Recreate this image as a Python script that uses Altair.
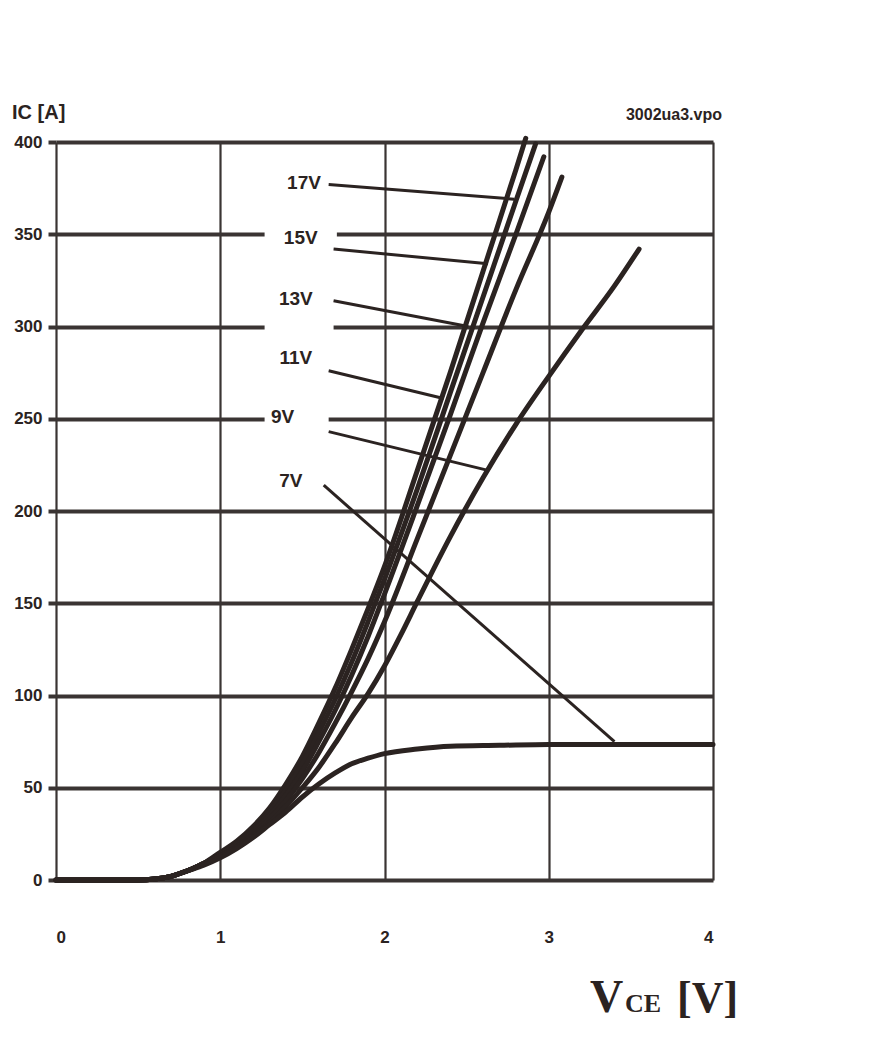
import altair as alt
import pandas as pd

# ---- data ----
gate_labels = ["17V", "15V", "13V", "11V", "9V", "7V"]

vce_17 = [0, 0.5, 0.6, 0.7, 0.8, 0.9, 1.0, 1.1, 1.2, 1.3, 1.4, 1.5, 1.6, 1.7, 1.8, 1.9, 2.0, 2.2, 2.4, 2.6, 2.8, 2.86]
ic_17 = [0, 0, 0.5, 2, 5, 9, 15, 21, 29, 39, 52, 67, 85, 104, 125, 147, 170, 222, 275, 330, 385, 402]

vce_15 = [0, 0.5, 0.6, 0.7, 0.8, 0.9, 1.0, 1.1, 1.2, 1.3, 1.4, 1.5, 1.6, 1.7, 1.8, 1.9, 2.0, 2.2, 2.4, 2.6, 2.8, 2.92]
ic_15 = [0, 0, 0.5, 2, 5, 9, 14, 20, 27, 37, 49, 63, 80, 98, 118, 140, 163, 212, 264, 316, 368, 399]

vce_13 = [0, 0.5, 0.6, 0.7, 0.8, 0.9, 1.0, 1.1, 1.2, 1.3, 1.4, 1.5, 1.6, 1.7, 1.8, 1.9, 2.0, 2.2, 2.4, 2.6, 2.8, 2.97]
ic_13 = [0, 0, 0.5, 2, 5, 9, 14, 19, 26, 35, 46, 59, 75, 92, 111, 132, 155, 203, 252, 302, 350, 392]

vce_11 = [0, 0.5, 0.6, 0.7, 0.8, 0.9, 1.0, 1.1, 1.2, 1.3, 1.4, 1.5, 1.6, 1.7, 1.8, 1.9, 2.0, 2.2, 2.4, 2.6, 2.8, 3.0, 3.08]
ic_11 = [0, 0, 0.5, 2, 5, 9, 13, 18, 25, 33, 43, 55, 69, 85, 102, 120, 140, 185, 230, 275, 320, 362, 381]

vce_9 = [0, 0.5, 0.6, 0.7, 0.8, 0.9, 1.0, 1.1, 1.2, 1.3, 1.4, 1.5, 1.6, 1.7, 1.8, 1.9, 2.0, 2.1, 2.2, 2.4, 2.6, 2.8, 3.0, 3.2, 3.4, 3.55]
ic_9 = [0, 0, 0.5, 2, 5, 9, 13, 18, 24, 31, 40, 50, 61, 74, 88, 101, 116, 133, 151, 186, 218, 247, 273, 298, 322, 342]

vce_7 = [0, 0.5, 0.6, 0.7, 0.8, 0.9, 1.0, 1.1, 1.2, 1.3, 1.4, 1.5, 1.6, 1.7, 1.8, 1.9, 2.0, 2.2, 2.4, 2.7, 3.0, 4.0]
ic_7 = [0, 0, 0.5, 2, 5, 8, 12, 17, 23, 30, 37, 45, 52, 58, 63, 66, 68.5, 71, 72.5, 73, 73.5, 73.5]

# label positions (data units) and leader lines
label_x = [1.51, 1.49, 1.46, 1.46, 1.38, 1.43]
label_y = [378, 348, 315, 283, 251, 216]
leader_x1 = [1.66, 1.69, 1.69, 1.66, 1.66, 1.63]
leader_y1 = [377, 342, 314, 276, 243, 214]
leader_x2 = [2.79, 2.63, 2.51, 2.36, 2.63, 3.40]
leader_y2 = [369, 334, 300, 261, 222, 75]

# white gaps in grid lines behind labels
gap_x1 = [1.27, 1.27, 1.27]
gap_x2 = [1.71, 1.69, 1.66]
gap_y1 = [343, 296, 246]
gap_y2 = [357, 304, 254]

x_ticks = [0, 1, 2, 3, 4]
y_ticks = [0, 50, 100, 150, 200, 250, 300, 350, 400]

# ---- build tables ----
rows = []
for g, vs, cs in zip(gate_labels, [vce_17, vce_15, vce_13, vce_11, vce_9, vce_7],
                     [ic_17, ic_15, ic_13, ic_11, ic_9, ic_7]):
    for k, (v, c) in enumerate(zip(vs, cs)):
        rows.append({"gate": g, "v": v, "i": c, "k": k})
curves = pd.DataFrame(rows)
labels = pd.DataFrame({"t": gate_labels, "v": label_x, "i": label_y})
leaders = pd.DataFrame({"v": leader_x1, "i": leader_y1, "v2": leader_x2, "i2": leader_y2})
gaps = pd.DataFrame({"v": gap_x1, "v2": gap_x2, "i": gap_y1, "i2": gap_y2})

INK = "#2b2321"
GRID = "#3a3433"

xs = alt.Scale(domain=[0, 4], nice=False)
ys = alt.Scale(domain=[0, 400], nice=False)

x_axis = alt.Axis(values=x_ticks, grid=True, gridWidth=2.2, gridColor=GRID, gridOpacity=1,
                  ticks=False, domain=False, labelPadding=49, labelFontSize=17,
                  labelFont="Liberation Sans", labelFontWeight="bold", labelColor=INK,
                  title=None, format="d")
y_axis = alt.Axis(values=y_ticks, grid=True, gridWidth=4, gridColor=GRID, gridOpacity=1,
                  ticks=True, tickSize=8, tickWidth=4, tickColor=GRID, domain=False,
                  labelPadding=6, labelFontSize=17, labelFont="Liberation Sans",
                  labelFontWeight="bold", labelColor=INK, title=None, format="d")

lines = alt.Chart(curves).mark_line(color=INK, strokeWidth=5, strokeCap="round",
                                    interpolate="monotone").encode(
    x=alt.X("v:Q", scale=xs, axis=x_axis),
    y=alt.Y("i:Q", scale=ys, axis=y_axis),
    detail="gate:N",
    order="k:Q",
)

gap_marks = alt.Chart(gaps).mark_rect(color="white").encode(
    x=alt.X("v:Q", scale=xs), x2="v2:Q", y=alt.Y("i:Q", scale=ys), y2="i2:Q")

leader_marks = alt.Chart(leaders).mark_rule(color=INK, strokeWidth=3).encode(
    x=alt.X("v:Q", scale=xs), y=alt.Y("i:Q", scale=ys), x2="v2:Q", y2="i2:Q")

label_marks = alt.Chart(labels).mark_text(font="Liberation Sans", fontWeight="bold",
                                          fontSize=19, color=INK).encode(
    x=alt.X("v:Q", scale=xs), y=alt.Y("i:Q", scale=ys), text="t:N")

def note(txt, x, y, size, font="Liberation Sans", weight="bold", align="left", baseline="middle"):
    return alt.Chart(pd.DataFrame({"t": [txt]})).mark_text(
        font=font, fontWeight=weight, fontSize=size, color=INK, align=align, baseline=baseline
    ).encode(x=alt.value(x), y=alt.value(y), text="t:N")

notes = [
    note("IC [A]", -44, -29, 20),
    note("3002ua3.vpo", 666, -27, 16, align="right"),
    note("V", 534, 870, 46, font="Liberation Serif", baseline="alphabetic"),
    note("CE", 569, 870, 26, font="Liberation Serif", baseline="alphabetic"),
    note("[V]", 621, 870, 44, font="Liberation Serif", baseline="alphabetic"),
]

chart = alt.layer(gap_marks, lines, leader_marks, label_marks, *notes).properties(
    width=657, height=738,
    autosize=alt.AutoSizeParams(type="none"),
    padding={"left": 48, "top": 134, "right": 120, "bottom": 150},
).configure_view(stroke=None).configure(background="white")

chart.save("out.html", embed_options={"renderer": "svg", "actions": False})
